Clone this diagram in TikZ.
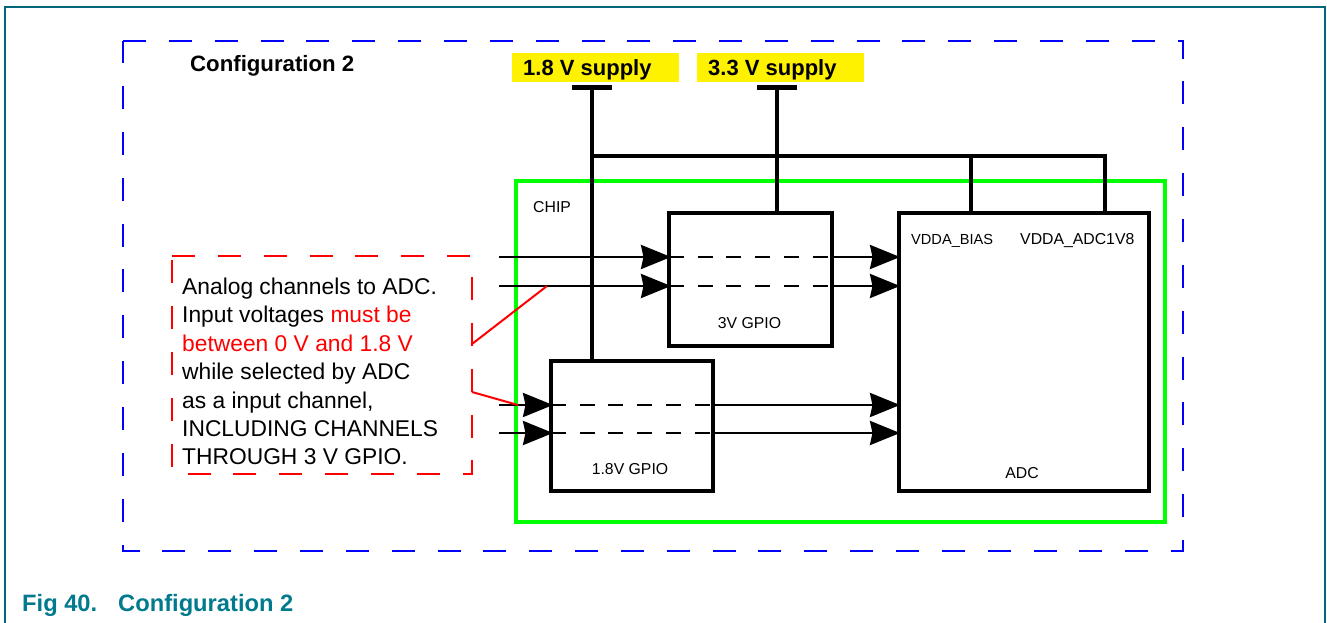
\documentclass[tikz,border=0pt]{standalone}
\usepackage{fontspec}
\setmainfont{Liberation Sans}
\usepackage{xcolor}
\usetikzlibrary{arrows.meta, positioning}
\definecolor{figteal}{HTML}{007A8C}
\definecolor{frameteal}{HTML}{00677A}

\begin{document}
\begin{tikzpicture}[
    x=1pt, y=-1pt,
    % Styles
    block/.style={rectangle, draw=black, fill=white, line width=4pt, inner sep=0pt, outer sep=0pt},
    chipbox/.style={rectangle, draw=green, line width=4.5pt, inner sep=0pt, outer sep=0pt, minimum width=649pt, minimum height=341pt},
    supply/.style={rectangle, fill=yellow, minimum width=167pt, minimum height=29pt, inner sep=0pt},
    supplytext/.style={anchor=base west, inner sep=0pt, font=\fontsize{22}{26}\selectfont\bfseries},
    small/.style={inner sep=0pt, font=\fontsize{15.8}{18}\selectfont},
    caption/.style={anchor=base west, inner sep=0pt, text=figteal, font=\fontsize{23.7}{28}\selectfont\bfseries},
    rail/.style={line width=4pt},
    railcap/.style={line width=5pt},
    signal/.style={line width=2.8pt, -{Stealth[length=30pt, width=24pt, inset=2.5pt]}},
    inside/.style={line width=2.8pt, dash pattern=on 15pt off 13.7pt},
    blueframe/.style={draw=blue, line width=1.8pt, dash pattern=on 23pt off 22.85pt},
    redframe/.style={draw=red, line width=2pt, dash pattern=on 23pt off 22.85pt},
    leader/.style={draw=red, line width=2pt}
]
    \useasboundingbox (0,0) rectangle (1327,623);

    % --- Outer frame and caption ---
    \coordinate (ftl) at (5,7);
    \coordinate (ftr) at (1325,7);
    \coordinate (fbl) at (5,623);
    \coordinate (fbr) at (1325,623);
    \draw[frameteal, line width=1.2pt] (fbl) -- (ftl) -- (ftr) -- (fbr);
    \node[caption] (fignum) at (22,611) {Fig 40.};
    \node[caption] (figtitle) at (118,611) {Configuration 2};

    % --- Dashed configuration box ---
    \node[minimum width=1060pt, minimum height=510pt, inner sep=0pt, outer sep=0pt] (config) at (653,296) {};
    \draw[blueframe] (config.north west) -- (config.north east) -- (config.south east) -- (config.south west) -- cycle;
    \node[anchor=base west, inner sep=0pt, font=\fontsize{22.2}{26}\selectfont\bfseries] (configlabel) at (190,72) {Configuration 2};

    % --- Chip and blocks ---
    \node[chipbox] (chip) at (840.5,351.5) {};
    \node[small, anchor=west] (chiplabel) at (533,207) {CHIP};
    \node[block, minimum width=163pt, minimum height=133pt] (gpio3) at (750.5,279.5) {};
    \node[block, minimum width=162pt, minimum height=130pt] (gpio18) at (632,426) {};
    \node[block, minimum width=250pt, minimum height=278pt] (adc) at (1024,352) {};
    \node[small] (gpio3label) at (749.5,323) {3V GPIO};
    \node[small] (gpio18label) at (630,469) {1.8V GPIO};
    \node[small] (adclabel) at (1022,473) {ADC};
    \node[small, anchor=west, font=\fontsize{14.6}{18}\selectfont] (bias) at (911,241) {VDDA\_BIAS};
    \node[small, anchor=west] (vadc) at (1020,241) {VDDA\_ADC1V8};

    % --- Supplies ---
    \node[supply] (sup18) at (595.5,67.5) {};
    \node[supply] (sup33) at (780.5,67.5) {};
    \node[supplytext] (sup18text) at (523,76) {1.8 V supply};
    \node[supplytext] (sup33text) at (708,76) {3.3 V supply};
    \coordinate (tap18) at (592,88);
    \coordinate (tap33) at (777,88);
    \coordinate (bus) at (592,156);
    \coordinate (busend) at (1105,156);
    \coordinate (busmid) at (971,156);
    \draw[railcap] ([xshift=-20pt]tap18) -- ([xshift=20pt]tap18);
    \draw[railcap] ([xshift=-20pt]tap33) -- ([xshift=20pt]tap33);
    \draw[rail] (tap18) -- (tap18 |- gpio18.north);
    \draw[rail] (tap33) -- (tap33 |- gpio3.north);
    \draw[rail] (bus) -- (busend) -- (busend |- adc.north);
    \draw[rail] (busmid) -- (busmid |- adc.north);

    % --- Analog channels ---
    \coordinate (cha) at (499,257);
    \coordinate (chb) at (499,286);
    \coordinate (chc) at (499,405);
    \coordinate (chd) at (499,433);
    \foreach \chan/\blk in {cha/gpio3, chb/gpio3, chc/gpio18, chd/gpio18} {
        \draw[signal] (\chan) -- ([xshift=2pt]\chan -| \blk.west);
        \draw[inside] (\chan -| \blk.west) -- (\chan -| \blk.east);
        \draw[signal] (\chan -| \blk.east) -- ([xshift=1pt]\chan -| adc.west);
    }

    % --- Note ---
    \node[minimum width=300pt, minimum height=218pt, inner sep=0pt, outer sep=0pt] (note) at (322,365) {};
    \draw[redframe] (note.north west) -- (note.north east) -- (note.south east) -- (note.south west) -- cycle;
    \node[anchor=west, inner sep=0pt, align=left, font=\fontsize{22.8}{28.4}\selectfont] (notetext) at (182,371.5) {Analog channels to ADC.\\Input voltages \textcolor{red}{must be}\\\textcolor{red}{between 0 V and 1.8 V}\\while selected by ADC\\as a input channel,\\INCLUDING CHANNELS\\THROUGH 3 V GPIO.};
    \coordinate (leadup) at (472,344);
    \coordinate (leadupend) at (547,286);
    \coordinate (leaddown) at (472,392);
    \coordinate (leaddownend) at (518,405);
    \draw[leader] (leadup) -- (leadupend);
    \draw[leader] (leaddown) -- (leaddownend);
\end{tikzpicture}
\end{document}
